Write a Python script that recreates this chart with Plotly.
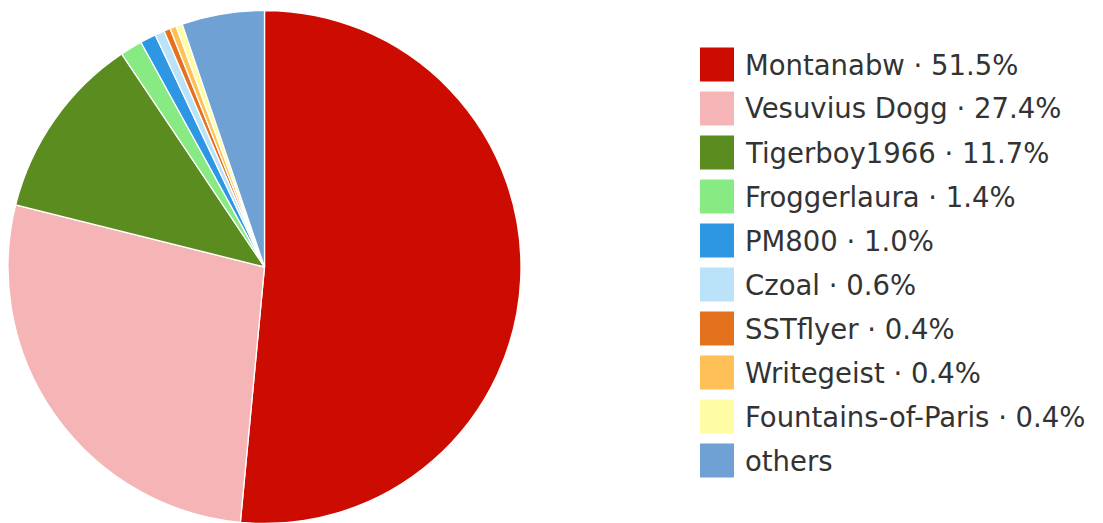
import plotly.graph_objects as go

names = ["Montanabw", "Vesuvius Dogg", "Tigerboy1966", "Froggerlaura", "PM800",
         "Czoal", "SSTflyer", "Writegeist", "Fountains-of-Paris", "others"]
shares = [51.5, 27.4, 11.7, 1.4, 1.0, 0.6, 0.4, 0.4, 0.4, 5.2]
legend_labels = ["Montanabw · 51.5%", "Vesuvius Dogg · 27.4%", "Tigerboy1966 · 11.7%",
                 "Froggerlaura · 1.4%", "PM800 · 1.0%", "Czoal · 0.6%",
                 "SSTflyer · 0.4%", "Writegeist · 0.4%", "Fountains-of-Paris · 0.4%",
                 "others"]
colors = ["#CC0C00", "#F5B5B6", "#5B8C20", "#88EA82", "#2D97E3",
          "#BAE2F8", "#E4711E", "#FEC057", "#FFFCA6", "#6FA1D4"]

W, H = 1103, 523
OFF = 8  # page body margin

fig = go.Figure()
fig.add_trace(go.Pie(
    labels=names, values=shares, sort=False, direction="clockwise", rotation=0,
    marker=dict(colors=colors, line=dict(color="white", width=1.3)),
    textinfo="none", hoverinfo="label+percent", showlegend=False,
    domain=dict(x=[0, (521 - OFF) / W],
                y=[1 - (525 - OFF) / H, 1 - (9 - OFF) / H]),
))

shapes = []
annotations = []
row0, step = 64.5 - OFF, 44.0
for i, (lab, col) in enumerate(zip(legend_labels, colors)):
    cy = row0 + step * i
    shapes.append(dict(type="rect", xref="paper", yref="paper",
                       x0=(700 - OFF) / W, x1=(734 - OFF) / W,
                       y0=1 - (cy + 17) / H, y1=1 - (cy - 17) / H,
                       fillcolor=col, line=dict(width=0)))
    annotations.append(dict(xref="paper", yref="paper", x=(743 - OFF) / W, y=1 - cy / H,
                            xanchor="left", yanchor="middle", showarrow=False,
                            text=lab, font=dict(family="DejaVu Sans", size=27.5,
                                                color="#333333")))

fig.update_layout(width=W, height=H, margin=dict(l=0, r=0, t=0, b=0),
                  paper_bgcolor="white", plot_bgcolor="white",
                  shapes=shapes, annotations=annotations)
fig.write_html("out.html")
